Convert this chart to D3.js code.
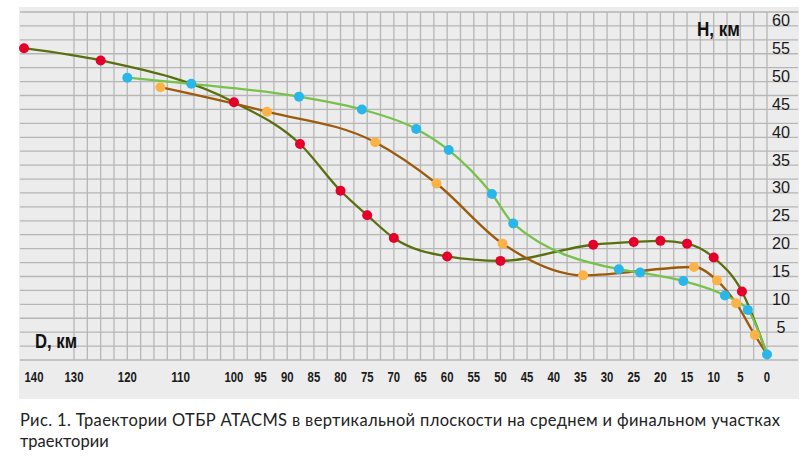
<!DOCTYPE html>
<html>
<head>
<meta charset="utf-8">
<script src="https://cdn.jsdelivr.net/npm/d3@7"></script>
<style>
  body { margin: 0; background: #fff; }
  .tick-x { font-family: "Liberation Sans", sans-serif; font-weight: bold; font-size: 15px; fill: #1a1a1a; }
  .tick-y { font-family: "Liberation Sans", sans-serif; font-size: 17px; fill: #1a1a1a; }
  .axis-title { font-family: "Liberation Sans", sans-serif; font-weight: bold; font-size: 21px; fill: #111; }
  .caption { font-family: Lato, "Noto Sans", sans-serif; font-size: 16.5px; fill: #222; }
</style>
</head>
<body>
<script>
// tick labels
var xTicks = [140, 130, 120, 110, 100, 95, 90, 85, 80, 75, 70, 65, 60, 55, 50, 45, 40, 35, 30, 25, 20, 15, 10, 5, 0];
var yTicks = [5, 10, 15, 20, 25, 30, 35, 40, 45, 50, 55, 60];

// trajectories: [D km, H km] of the marked points
var olivePoints = [[142.5, 56], [125, 53.8], [100, 46.3], [87.6, 38.8], [80, 30.4], [75, 26],
                   [70, 21.9], [60, 18.6], [50, 17.8], [32.6, 20.7], [25, 21.2], [20, 21.4],
                   [15, 20.9], [10, 18.4], [4.7, 12.3]];
var brownPoints = [[113.8, 49], [93.8, 44.6], [73.5, 39.1], [62, 31.7], [49.6, 20.9], [34.5, 15.2],
                   [13.7, 16.7], [9.4, 14.3], [5.8, 10.2], [2.3, 4.5]];
var greenPoints = [[120, 50.7], [108, 49.6], [87.8, 47.3], [76, 45], [65.8, 41.5], [59.7, 37.7],
                   [51.6, 29.8], [47.6, 24.5], [27.8, 16.3], [23.8, 15.7], [15.7, 14.2], [7.9, 11.6],
                   [3.6, 9], [0, 1]];
// common impact point where all lines end
var impact = [0, 1];

var captionLines = ["Рис. 1. Траектории ОТБР ATACMS в вертикальной плоскости на среднем и финальном участках",
                    "траектории"];

var width = 800, height = 463;

var svg = d3.select("body").append("svg")
    .attr("width", width)
    .attr("height", height);

// x is squeezed beyond 130 km
var x = d3.scaleLinear().domain([140, 130, 0]).range([34, 74, 767]);
var y = d3.scaleLinear().domain([0, 62.5]).range([360, 12]);

// background
svg.append("rect")
    .attr("x", 19).attr("y", 7)
    .attr("width", 780).attr("height", 392)
    .attr("fill", "#ececec");

// grid
var grid = svg.append("g").attr("stroke", "#b6b6b6").attr("stroke-width", 1.3);
grid.selectAll("line.h")
    .data(d3.range(0, 62.6, 2.5))
  .enter().append("line")
    .attr("x1", 20).attr("x2", 798)
    .attr("y1", function(d) { return y(d); })
    .attr("y2", function(d) { return y(d); });
grid.selectAll("line.v")
    .data(d3.range(0, 130.1, 2.5))
  .enter().append("line")
    .attr("x1", function(d) { return x(d); })
    .attr("x2", function(d) { return x(d); })
    .attr("y1", y(62.5)).attr("y2", y(0));

// tick labels (narrow digits like the original)
svg.selectAll(".tick-x")
    .data(xTicks)
  .enter().append("text")
    .attr("class", "tick-x")
    .attr("x", function(d) { return x(d); })
    .attr("y", 382)
    .attr("text-anchor", "middle")
    .attr("textLength", function(d) { return String(d).length * 6.3; })
    .attr("lengthAdjust", "spacingAndGlyphs")
    .text(function(d) { return d; });

svg.selectAll(".tick-y")
    .data(yTicks)
  .enter().append("text")
    .attr("class", "tick-y")
    .attr("x", 781)
    .attr("y", function(d) { return y(d) + 0.5; })
    .attr("text-anchor", "middle")
    .attr("textLength", function(d) { return String(d).length * 9; })
    .attr("lengthAdjust", "spacingAndGlyphs")
    .text(function(d) { return d; });

svg.append("text").attr("class", "axis-title")
    .attr("x", 697).attr("y", 36)
    .attr("textLength", 43).attr("lengthAdjust", "spacingAndGlyphs")
    .text("H, км");
svg.append("text").attr("class", "axis-title")
    .attr("x", 35).attr("y", 348)
    .attr("textLength", 42).attr("lengthAdjust", "spacingAndGlyphs")
    .text("D, км");

// lines
var line = d3.line()
    .x(function(d) { return x(d[0]); })
    .y(function(d) { return y(d[1]); })
    .curve(d3.curveMonotoneX);

var series = [
  {points: olivePoints, line: olivePoints.concat([impact]), stroke: "#5a6f10", dot: "#e5002b"},
  {points: brownPoints, line: brownPoints.concat([impact]), stroke: "#9c5a0c", dot: "#fbb347"},
  {points: greenPoints, line: greenPoints, stroke: "#77c14c", dot: "#29b6e9"}
];

series.forEach(function(s) {
  svg.append("path")
      .datum(s.line)
      .attr("fill", "none")
      .attr("stroke", s.stroke)
      .attr("stroke-width", 2.3)
      .attr("d", line);
});

series.forEach(function(s) {
  svg.selectAll(null)
      .data(s.points)
    .enter().append("circle")
      .attr("r", 5)
      .attr("fill", s.dot)
      .attr("cx", function(d) { return x(d[0]); })
      .attr("cy", function(d) { return y(d[1]); });
});

// caption
svg.selectAll(".caption")
    .data(captionLines)
  .enter().append("text")
    .attr("class", "caption")
    .attr("x", 20)
    .attr("y", function(d, i) { return i ? 446.5 : 426; })
    .attr("textLength", function(d, i) { return i ? null : 760; })
    .attr("lengthAdjust", "spacing")
    .text(function(d) { return d; });
</script>
</body>
</html>
